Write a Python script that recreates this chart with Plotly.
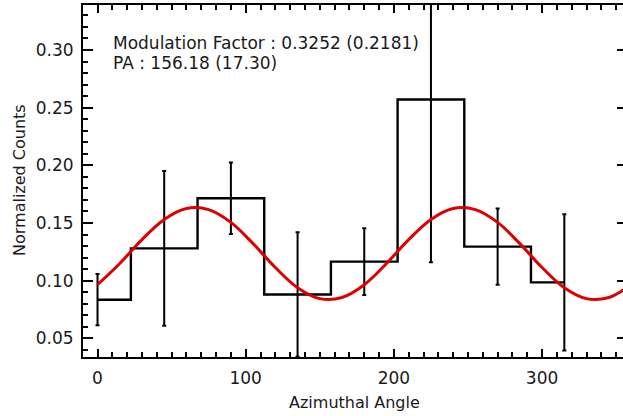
import plotly.graph_objects as go

# ---- data ----
bin_centers = [0, 45, 90, 135, 180, 225, 270, 315]
counts = [0.0835, 0.128, 0.1715, 0.088, 0.1165, 0.257, 0.1295, 0.0985]
errors = [0.0222, 0.067, 0.031, 0.054, 0.029, 0.141, 0.033, 0.059]

fit_angle = [0, 15, 30, 45, 60, 75, 90, 105, 120, 135, 150, 165, 180,
             195, 210, 225, 240, 255, 270, 285, 300, 315, 330, 345, 360]
fit_value = [0.0965, 0.1149, 0.1356, 0.1531, 0.1626, 0.1616, 0.1505, 0.1321,
             0.1114, 0.0939, 0.0844, 0.0854, 0.0965, 0.1149, 0.1356, 0.1531,
             0.1626, 0.1616, 0.1505, 0.1321, 0.1114, 0.0939, 0.0844, 0.0854,
             0.0965]

y_tick_vals = [0.05, 0.10, 0.15, 0.20, 0.25, 0.30]
y_tick_text = ["0.05", "0.10", "0.15", "0.20", "0.25", "0.30"]
x_tick_vals = [0, 100, 200, 300]
x_tick_text = ["0", "100", "200", "300"]

line1 = "Modulation Factor : 0.3252 (0.2181)"
line2 = "PA : 156.18 (17.30)"

# histogram steps like IDL psym=10 (half bins at the ends)
step_x = [bin_centers[0]] + [(a + b) / 2 for a, b in zip(bin_centers[:-1], bin_centers[1:])] + [bin_centers[-1]]
step_y = counts + [counts[-1]]

FONT = "DejaVu Sans"
INK = "#1a1a1a"

fig = go.Figure()
fig.add_trace(go.Scatter(x=step_x, y=step_y, mode="lines", line_shape="hv",
                         line=dict(color="black", width=2.4), hoverinfo="skip"))
fig.add_trace(go.Scatter(x=bin_centers, y=counts, mode="markers",
                         marker=dict(size=1, color="rgba(0,0,0,0)"),
                         error_y=dict(type="data", array=errors, color="black",
                                      thickness=2, width=2), hoverinfo="skip"))
fig.add_trace(go.Scatter(x=fit_angle, y=fit_value, mode="lines", line_shape="spline",
                         line=dict(color="#dd0000", width=3), hoverinfo="skip"))
# invisible trace for right-side tick stubs
fig.add_trace(go.Scatter(x=[0], y=[0.1], yaxis="y2", mode="markers",
                         marker=dict(size=1, color="rgba(0,0,0,0)"), hoverinfo="skip"))

yr = [0.0338, 0.339]
fig.update_layout(
    width=623, height=416,
    margin=dict(l=83, r=0, t=5, b=59, autoexpand=False),
    paper_bgcolor="white", plot_bgcolor="white",
    showlegend=False,
    font=dict(family=FONT, size=17, color=INK),
    xaxis=dict(range=[-9.8, 354.6], tickvals=x_tick_vals, ticktext=x_tick_text,
               ticks="inside", ticklen=8, tickwidth=1.5, tickcolor="black",
               minor=dict(dtick=10, tick0=0, ticks="inside", ticklen=5, tickwidth=1.5, tickcolor="black"),
               showline=True, linecolor="black", linewidth=2, mirror="ticks",
               showgrid=False, zeroline=False, ticklabelstandoff=5,
               tickfont=dict(family=FONT, size=17, color=INK)),
    yaxis=dict(range=yr, tickvals=y_tick_vals, ticktext=y_tick_text,
               ticks="inside", ticklen=10, tickwidth=1.5, tickcolor="black",
               minor=dict(dtick=0.01, tick0=0, ticks="inside", ticklen=5, tickwidth=1.5, tickcolor="black"),
               showline=True, linecolor="black", linewidth=2, mirror=False,
               showgrid=False, zeroline=False, ticklabelstandoff=4,
               tickfont=dict(family=FONT, size=17, color=INK)),
    yaxis2=dict(range=yr, overlaying="y", side="right", anchor="x",
                tickvals=y_tick_vals, showticklabels=False,
                ticks="inside", ticklen=6, tickwidth=1.5, tickcolor="black",
                showline=False, showgrid=False, zeroline=False),
    annotations=[
        dict(text=line1, xref="paper", yref="paper", x=(111 - 83) / 540, y=1 - 38 / 352,
             xanchor="left", yanchor="middle", showarrow=False,
             font=dict(family=FONT, size=17, color=INK)),
        dict(text=line2, xref="paper", yref="paper", x=(111 - 83) / 540, y=1 - 58 / 352,
             xanchor="left", yanchor="middle", showarrow=False,
             font=dict(family=FONT, size=17, color=INK)),
        dict(text="Azimuthal Angle", xref="paper", yref="paper", x=(354 - 83) / 540,
             y=-(402 - 357) / 352, xanchor="center", yanchor="middle", showarrow=False,
             font=dict(family=FONT, size=16, color=INK)),
        dict(text="Normalized Counts", xref="paper", yref="paper", x=(20 - 83) / 540,
             y=1 - (180 - 5) / 352, xanchor="center", yanchor="middle", showarrow=False,
             textangle=-90, font=dict(family=FONT, size=16, color=INK)),
    ],
)

fig.write_html("out.html", config={"displayModeBar": False},
               post_script="document.body.style.margin='0px';document.body.style.overflow='hidden';")
